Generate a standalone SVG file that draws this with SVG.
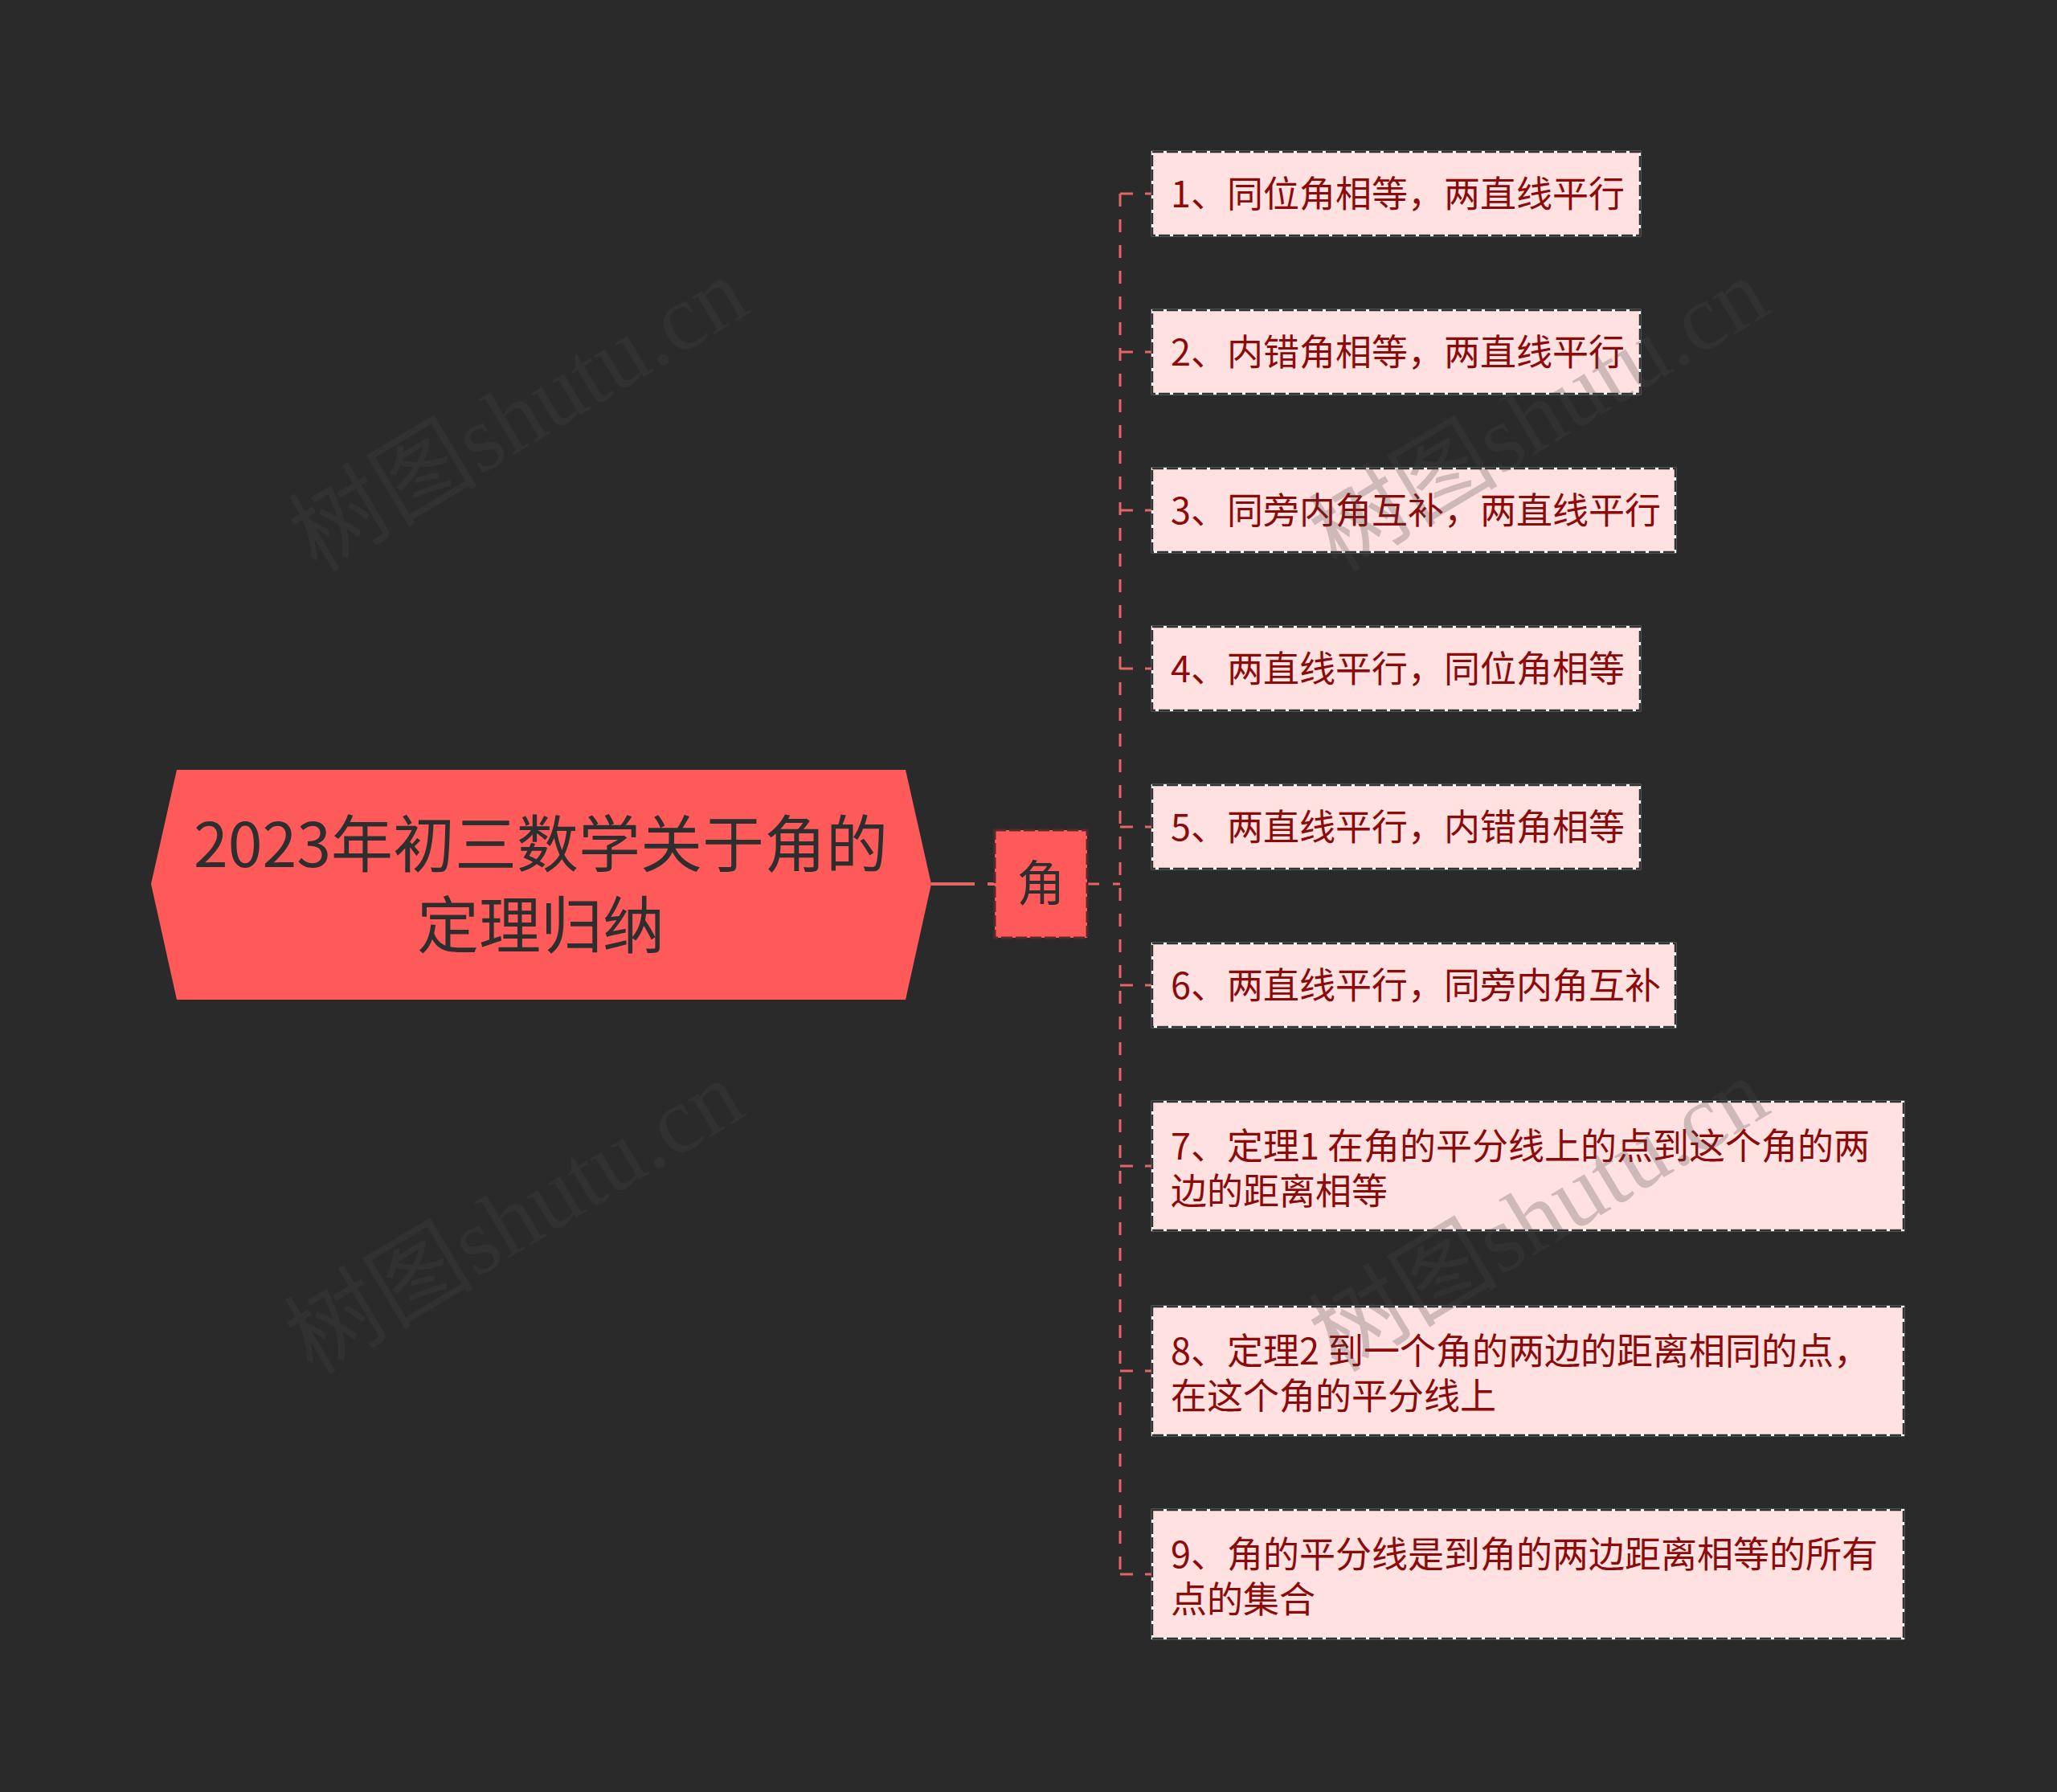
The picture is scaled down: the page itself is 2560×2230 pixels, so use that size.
<svg xmlns="http://www.w3.org/2000/svg" width="2560" height="2230" viewBox="0 0 2560 2230">
<style>
.bg{fill:#2a2a2a}
.conn{fill:none;stroke:#e36565;stroke-width:3}
.leafbox{fill:#ffe1e1}
.leafedge1{fill:none;stroke:#ffffff;stroke-width:2.5}
.leafedge2{fill:none;stroke:#333333;stroke-width:2.5;stroke-dasharray:14 4}
.leaftxt{font-family:"Noto Sans CJK SC","Noto Sans",sans-serif;font-size:45px;fill:#8b0a0a}
.roottxt{font-family:"Noto Sans CJK SC","Noto Sans",sans-serif;font-size:77px;fill:#2e2e2e;text-anchor:middle}
.wm{font-family:"Liberation Serif","Noto Sans CJK SC",serif;font-size:118px;fill:#474747;fill-opacity:0.26}
</style>
<rect class="bg" x="0" y="0" width="2560" height="2230"/>
<g id="connectors">
<line class="conn" x1="1159" y1="1100" x2="1238" y2="1100" style="stroke-width:4;stroke-dasharray:54 16"/>
<line class="conn" x1="1353" y1="1100" x2="1394" y2="1100" style="stroke-dasharray:15 17"/>
<line class="conn" x1="1394" y1="241" x2="1394" y2="1959" style="stroke-dasharray:16 16"/>
<line class="conn" x1="1394" y1="241" x2="1434" y2="241" style="stroke-dasharray:16 15"/>
<line class="conn" x1="1394" y1="438" x2="1434" y2="438" style="stroke-dasharray:16 15"/>
<line class="conn" x1="1394" y1="635" x2="1434" y2="635" style="stroke-dasharray:16 15"/>
<line class="conn" x1="1394" y1="832" x2="1434" y2="832" style="stroke-dasharray:16 15"/>
<line class="conn" x1="1394" y1="1029" x2="1434" y2="1029" style="stroke-dasharray:16 15"/>
<line class="conn" x1="1394" y1="1226" x2="1434" y2="1226" style="stroke-dasharray:16 15"/>
<line class="conn" x1="1394" y1="1451" x2="1434" y2="1451" style="stroke-dasharray:16 15"/>
<line class="conn" x1="1394" y1="1706" x2="1434" y2="1706" style="stroke-dasharray:16 15"/>
<line class="conn" x1="1394" y1="1959" x2="1434" y2="1959" style="stroke-dasharray:16 15"/>
</g>
<g id="root">
<polygon points="188,1100 220,958 1127,958 1159,1100 1127,1244 220,1244" fill="#ff5a5a"/>
<text class="roottxt" x="673" y="1079">2023年初三数学关于角的</text>
<text class="roottxt" x="673" y="1180">定理归纳</text>
</g>
<g id="jiao">
<rect x="1238" y="1033" width="115" height="134" fill="#ff5a5a" stroke="#5a2a2a" stroke-width="3" stroke-dasharray="14 4"/>
<text x="1295.5" y="1121" text-anchor="middle" font-family="'Noto Sans CJK SC','Noto Sans',sans-serif" font-size="60" fill="#2e2e2e">角</text>
</g>
<g id="n1">
<rect class="leafbox" x="1434" y="189" width="607" height="104"/>
<rect class="leafedge1" x="1434" y="189" width="607" height="104"/>
<rect class="leafedge2" x="1434" y="189" width="607" height="104"/>
<text class="leaftxt" x="1457" y="258">1、同位角相等，两直线平行</text>
</g>
<g id="n2">
<rect class="leafbox" x="1434" y="386" width="607" height="104"/>
<rect class="leafedge1" x="1434" y="386" width="607" height="104"/>
<rect class="leafedge2" x="1434" y="386" width="607" height="104"/>
<text class="leaftxt" x="1457" y="455">2、内错角相等，两直线平行</text>
</g>
<g id="n3">
<rect class="leafbox" x="1434" y="583" width="651" height="104"/>
<rect class="leafedge1" x="1434" y="583" width="651" height="104"/>
<rect class="leafedge2" x="1434" y="583" width="651" height="104"/>
<text class="leaftxt" x="1457" y="652">3、同旁内角互补，两直线平行</text>
</g>
<g id="n4">
<rect class="leafbox" x="1434" y="780" width="607" height="104"/>
<rect class="leafedge1" x="1434" y="780" width="607" height="104"/>
<rect class="leafedge2" x="1434" y="780" width="607" height="104"/>
<text class="leaftxt" x="1457" y="849">4、两直线平行，同位角相等</text>
</g>
<g id="n5">
<rect class="leafbox" x="1434" y="977" width="607" height="104"/>
<rect class="leafedge1" x="1434" y="977" width="607" height="104"/>
<rect class="leafedge2" x="1434" y="977" width="607" height="104"/>
<text class="leaftxt" x="1457" y="1046">5、两直线平行，内错角相等</text>
</g>
<g id="n6">
<rect class="leafbox" x="1434" y="1174" width="651" height="104"/>
<rect class="leafedge1" x="1434" y="1174" width="651" height="104"/>
<rect class="leafedge2" x="1434" y="1174" width="651" height="104"/>
<text class="leaftxt" x="1457" y="1243">6、两直线平行，同旁内角互补</text>
</g>
<g id="n7">
<rect class="leafbox" x="1434" y="1371" width="935" height="160"/>
<rect class="leafedge1" x="1434" y="1371" width="935" height="160"/>
<rect class="leafedge2" x="1434" y="1371" width="935" height="160"/>
<text class="leaftxt" x="1457" y="1443">7、定理1 在角的平分线上的点到这个角的两</text>
<text class="leaftxt" x="1457" y="1499">边的距离相等</text>
</g>
<g id="n8">
<rect class="leafbox" x="1434" y="1626" width="935" height="160"/>
<rect class="leafedge1" x="1434" y="1626" width="935" height="160"/>
<rect class="leafedge2" x="1434" y="1626" width="935" height="160"/>
<text class="leaftxt" x="1457" y="1698">8、定理2 到一个角的两边的距离相同的点，</text>
<text class="leaftxt" x="1457" y="1754">在这个角的平分线上</text>
</g>
<g id="n9">
<rect class="leafbox" x="1434" y="1879" width="935" height="160"/>
<rect class="leafedge1" x="1434" y="1879" width="935" height="160"/>
<rect class="leafedge2" x="1434" y="1879" width="935" height="160"/>
<text class="leaftxt" x="1457" y="1951">9、角的平分线是到角的两边距离相等的所有</text>
<text class="leaftxt" x="1457" y="2007">点的集合</text>
</g>
<g id="watermarks">
<text class="wm" text-anchor="middle" transform="translate(645,516) rotate(-31)" y="40">树图shutu.cn</text>
<text class="wm" text-anchor="middle" transform="translate(1915,516) rotate(-31)" y="40">树图shutu.cn</text>
<text class="wm" text-anchor="middle" transform="translate(640,1515) rotate(-31)" y="40">树图shutu.cn</text>
<text class="wm" text-anchor="middle" transform="translate(1915,1512) rotate(-31)" y="40">树图shutu.cn</text>
</g>
</svg>
